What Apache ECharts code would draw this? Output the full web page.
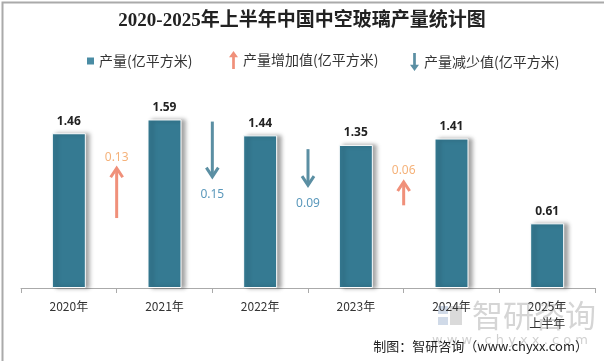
<!DOCTYPE html>
<html><head><meta charset="utf-8">
<script src="https://cdn.jsdelivr.net/npm/echarts@6/dist/echarts.min.js"></script>
<style>html,body{margin:0;padding:0;background:#fff}#c{width:604px;height:361px}</style>
</head><body><div id="c"></div>
<script>
// ---- data ----
const categories = ['2020年','2021年','2022年','2023年','2024年','2025年\n上半年'];
const production = [1.46, 1.59, 1.44, 1.35, 1.41, 0.61];
// changes between consecutive years (index = boundary after category i)
const increaseIdx = [0, 3];
const increaseVal = [0.13, 0.06];
const increaseFrom = [0.66, 0.78];   // arrow tail (axis units)
const increaseTo = [1.13, 1.00];     // arrow tip
const decreaseIdx = [1, 2];
const decreaseVal = [0.15, 0.09];
const decreaseFrom = [1.57, 1.31];
const decreaseTo = [1.05, 0.97];

const chart = echarts.init(document.getElementById('c'));
const CJK = '"Noto Sans CJK SC", "Noto Sans", sans-serif';

function makeArrow(up, lineColor, textColor) {
  return function (params, api) {
    const i = api.value(0);
    const x = (api.coord([i, 0])[0] + api.coord([i + 1, 0])[0]) / 2;
    const yTail = api.coord([i, api.value(1)])[1];
    const yTip = api.coord([i, api.value(2)])[1];
    const d = up ? 1 : -1;
    const hw = 6, hh = 9;
    return {
      type: 'group',
      children: [
        { type: 'line', shape: { x1: x, y1: yTail, x2: x, y2: yTip + d * 1 },
          style: { stroke: lineColor, lineWidth: 3 } },
        { type: 'polyline', shape: { points: [[x - hw, yTip + d * hh], [x, yTip], [x + hw, yTip + d * hh]] },
          style: { stroke: lineColor, lineWidth: 3, fill: null } },
        { type: 'text', x: x, y: up ? yTip - 11 : yTip + 18,
          style: { text: api.value(3).toFixed(2), fill: textColor, font: '12px "Noto Sans", sans-serif',
                   align: 'center', verticalAlign: 'middle' } }
      ]
    };
  };
}

const option = {
  backgroundColor: '#fff',
  animation: false,
  title: {
    text: '2020-2025年上半年中国中空玻璃产量统计图',
    left: 'center', top: 7,
    textStyle: { fontSize: 19, fontWeight: 'bold', color: '#222', fontFamily: '"Liberation Serif", "Noto Sans CJK SC", serif' }
  },
  legend: [
    { left: 82, top: 49, itemWidth: 7, itemHeight: 7, icon: 'rect',
      textStyle: { fontSize: 14, color: '#333', fontFamily: CJK },
      data: [{ name: '产量(亿平方米)', itemStyle: { color: '#4a8ca4', borderWidth: 0, shadowBlur: 0 } }] },
    { left: 224, top: 46, itemWidth: 9, itemHeight: 20,
      textStyle: { fontSize: 14, color: '#333', fontFamily: CJK },
      data: [{ name: '产量增加值(亿平方米)', icon: 'path://M5,0 L10,7 L6.5,7 L6.5,20 L3.5,20 L3.5,7 L0,7 Z', itemStyle: { color: '#f0907a' } }] },
    { left: 405, top: 48, itemWidth: 9, itemHeight: 20,
      textStyle: { fontSize: 14, color: '#333', fontFamily: CJK },
      data: [{ name: '产量减少值(亿平方米)', icon: 'path://M3.5,0 L6.5,0 L6.5,13 L10,13 L5,20 L0,13 L3.5,13 Z', itemStyle: { color: '#5b8fa3' } }] }
  ],
  grid: { left: 21, right: 9, top: 76, bottom: 73, containLabel: false },
  xAxis: {
    type: 'category', data: categories,
    axisLine: { lineStyle: { color: '#aaa' } },
    axisTick: { show: true, length: 5, lineStyle: { color: '#aaa' } },
    axisLabel: { color: '#333', fontSize: 12, fontFamily: CJK, margin: 10, lineHeight: 17 }
  },
  yAxis: { type: 'value', min: 0, max: 2, show: false, splitLine: { show: false } },
  series: [
    { name: '产量(亿平方米)', type: 'bar', data: production, barWidth: 34,
      itemStyle: { color: '#357a92', borderColor: '#fff', borderWidth: 1,
                   shadowColor: 'rgba(0,0,0,0.35)', shadowBlur: 4, shadowOffsetX: 4, shadowOffsetY: 0 },
      label: { show: true, position: 'top', distance: 6, color: '#222', fontSize: 12, fontWeight: 'bold',
               fontFamily: '"Noto Sans", sans-serif', formatter: p => p.value.toFixed(2) } },
    { name: '产量增加值(亿平方米)', type: 'custom', renderItem: makeArrow(true, '#f0907a', '#f5b27a'),
      itemStyle: { color: '#f0907a' },
      data: increaseIdx.map((i, k) => [i, increaseFrom[k], increaseTo[k], increaseVal[k]]) },
    { name: '产量减少值(亿平方米)', type: 'custom', renderItem: makeArrow(false, '#5b8fa3', '#5a98bb'),
      itemStyle: { color: '#5b8fa3' },
      data: decreaseIdx.map((i, k) => [i, decreaseFrom[k], decreaseTo[k], decreaseVal[k]]) }
  ],
  graphic: [
    { type: 'rect', left: 0, top: 0, shape: { width: 603, height: 360 }, silent: true, z: 100,
      style: { fill: null, stroke: '#aaa', lineWidth: 2 } },
    // watermark
    { type: 'group', left: 432, top: 300, silent: true, z: 0, children: [
      { type: 'rect', shape: { x: 0, y: 6, width: 10, height: 8 }, style: { fill: 'rgba(120,150,190,0.35)' } },
      { type: 'rect', shape: { x: 0, y: 17, width: 10, height: 8 }, style: { fill: 'rgba(120,150,190,0.35)' } },
      { type: 'rect', shape: { x: 12, y: 6, width: 12, height: 19 }, style: { fill: 'rgba(150,150,150,0.35)' } },
      { type: 'text', x: 34, y: 0, style: { text: '智研咨询', font: '31px "Noto Sans CJK SC"', fill: 'rgba(150,150,150,0.4)' } },
      { type: 'text', x: -6, y: 34, style: { text: 'w w w . c h y x x . c o m', font: '13px "DejaVu Sans"', fill: 'rgba(150,150,150,0.45)' } }
    ]},
    { type: 'text', right: 16, top: 340, z: 10,
      style: { text: '制图：智研咨询（www.chyxx.com）', font: '13px "Noto Sans CJK SC"', fill: '#222' } }
  ]
};
chart.setOption(option);
</script>
</body></html>
